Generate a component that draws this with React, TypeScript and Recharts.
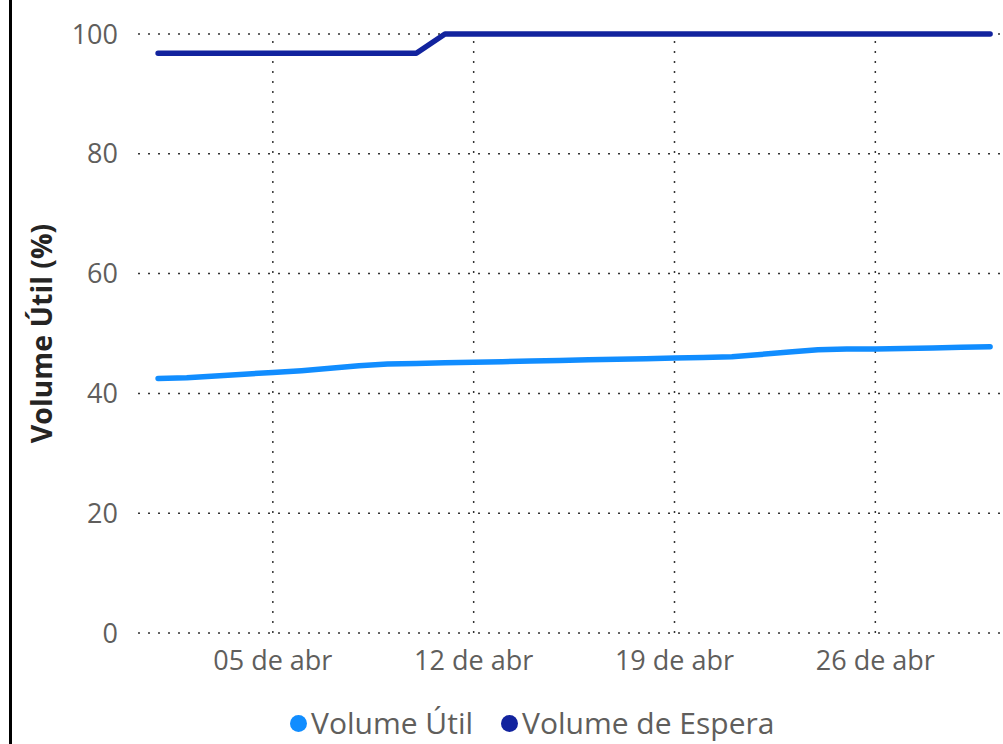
import React from 'react';
import { LineChart, Line, XAxis, YAxis, CartesianGrid, Legend, ReferenceLine } from 'recharts';

// April days (1..30)
const days = [1, 2, 3, 4, 5, 6, 7, 8, 9, 10, 11, 12, 13, 14, 15, 16, 17, 18, 19, 20, 21, 22, 23, 24, 25, 26, 27, 28, 29, 30];

const volumeUtil = [
  42.5, 42.6, 42.9, 43.2, 43.5, 43.8, 44.2, 44.6, 44.9, 45.0,
  45.1, 45.2, 45.3, 45.4, 45.5, 45.6, 45.7, 45.8, 45.9, 46.0,
  46.1, 46.5, 46.9, 47.3, 47.4, 47.4, 47.5, 47.6, 47.7, 47.8,
];

const volumeEspera = [
  96.8, 96.8, 96.8, 96.8, 96.8, 96.8, 96.8, 96.8, 96.8, 96.8,
  100, 100, 100, 100, 100, 100, 100, 100, 100, 100,
  100, 100, 100, 100, 100, 100, 100, 100, 100, 100,
];

const xTicks = [5, 12, 19, 26];
const yTicks = [0, 20, 40, 60, 80, 100];

const COLOR_UTIL = '#118DFF';
const COLOR_ESPERA = '#12239E';
const GRID = '#333';
const FONT = '"Open Sans", "Noto Sans", sans-serif';

const chartData = days.map((day, i) => ({
  day,
  util: volumeUtil[i],
  espera: volumeEspera[i],
}));

const formatDay = (d: number) => `${String(d).padStart(2, '0')} de abr`;

const CustomLegend = () => {
  const items = [
    { label: 'Volume Útil', color: COLOR_UTIL },
    { label: 'Volume de Espera', color: COLOR_ESPERA },
  ];
  return (
    <div style={{
      height: 51,
      boxSizing: 'border-box',
      paddingTop: 9,
      paddingLeft: 290,
      display: 'flex',
      alignItems: 'center',
      fontFamily: FONT,
      fontSize: 30,
      color: '#605E5C',
    }}>
      {items.map((it, idx) => (
        <div key={it.label} style={{ display: 'flex', alignItems: 'center', marginRight: idx === 0 ? 28 : 0 }}>
          <span style={{
            width: 17,
            height: 17,
            borderRadius: '50%',
            background: it.color,
            display: 'inline-block',
            marginRight: 4,
          }} />
          <span style={{ lineHeight: '32px' }}>{it.label}</span>
        </div>
      ))}
    </div>
  );
};

export default function App() {
  return (
    <div style={{ position: 'absolute', left: 0, top: 0, width: 1003, height: 744, background: '#fff', overflow: 'hidden' }}>
      <div style={{ position: 'absolute', left: 9, top: 0, width: 3, height: 744, background: '#000' }} />
      <LineChart
        width={1003}
        height={744}
        data={chartData}
        margin={{ top: 34, right: 0, left: 10, bottom: 0 }}
      >
        <CartesianGrid stroke={GRID} strokeDasharray="2 8" strokeWidth={1.5} vertical={false} />
        {/* vertical grid only at date ticks */}
        {xTicks.map((t) => (
          <ReferenceLine key={t} x={t} stroke={GRID} strokeDasharray="2 8" strokeWidth={1.5} />
        ))}
        <XAxis
          type="number"
          dataKey="day"
          domain={[0.3, 30.45]}
          allowDataOverflow
          ticks={xTicks}
          tickFormatter={formatDay}
          axisLine={false}
          tickLine={false}
          tickSize={0}
          tickMargin={18}
          height={60}
          tick={{ fill: '#605E5C', fontSize: 27, fontFamily: FONT }}
        />
        <YAxis
          domain={[0, 100]}
          ticks={yTicks}
          axisLine={false}
          tickLine={false}
          tickSize={0}
          tickMargin={20}
          width={128}
          tick={{ fill: '#605E5C', fontSize: 27, fontFamily: FONT }}
          label={{
            value: 'Volume Útil (%)',
            angle: -90,
            position: 'insideLeft',
            offset: 32,
            style: { textAnchor: 'middle', fill: '#252423', fontSize: 28.5, fontWeight: 700, fontFamily: FONT },
          }}
        />
        <Legend verticalAlign="bottom" wrapperStyle={{ left: 0, width: 1003 }} content={<CustomLegend />} />
        <Line
          type="linear"
          dataKey="util"
          name="Volume Útil"
          stroke={COLOR_UTIL}
          strokeWidth={5.5}
          strokeLinecap="round"
          strokeLinejoin="round"
          dot={false}
          activeDot={false}
          isAnimationActive={false}
        />
        <Line
          type="linear"
          dataKey="espera"
          name="Volume de Espera"
          stroke={COLOR_ESPERA}
          strokeWidth={5.5}
          strokeLinecap="round"
          strokeLinejoin="round"
          dot={false}
          activeDot={false}
          isAnimationActive={false}
        />
      </LineChart>
    </div>
  );
}
